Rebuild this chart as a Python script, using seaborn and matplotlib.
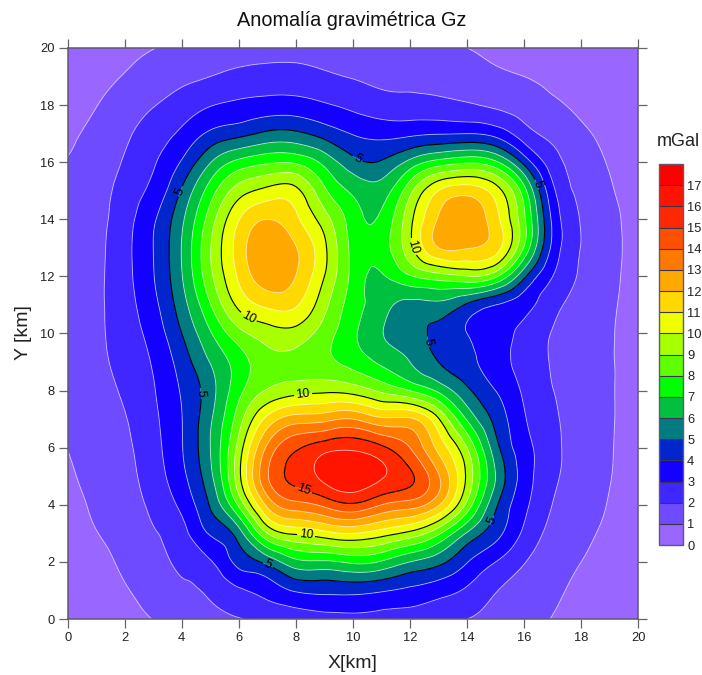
import numpy as np
import matplotlib
matplotlib.use("Agg")
import matplotlib.pyplot as plt
import matplotlib.tri as mtri
from matplotlib.colors import ListedColormap, BoundaryNorm
import seaborn as sns

x_km = np.arange(0, 21)
y_km = np.arange(0, 21)

# Values at every 1 km node; each list is one column (x fixed, y = 0..20).
gz_x00 = [.02,.15,.35,.52,.68,.85,1.02,1.2,1.32,1.38,1.4,1.38,1.34,1.28,1.2,1.12,1.03,.9,.75,.57,.38]
gz_x01 = [.28,.45,.68,.97,1.15,1.3,1.45,1.6,1.7,1.78,1.8,1.8,1.78,1.73,1.65,1.52,1.38,1.2,.98,.75,.52]
gz_x02 = [.68,.92,1.18,1.4,1.6,1.72,1.82,1.95,2.12,2.3,2.48,2.6,2.68,2.7,2.6,2.4,2.1,1.8,1.45,1.05,.76]
gz_x03 = [1.02,1.35,1.65,1.92,2.2,2.48,2.65,2.78,2.92,3.1,3.4,3.72,3.95,4.0,3.85,3.3,2.9,2.5,1.95,1.42,.98]
gz_x04 = [1.4,1.8,2.2,2.65,3.25,3.75,3.95,3.98,4.1,4.45,5.0,5.55,5.95,6.05,5.8,5.1,4.1,3.2,2.45,1.75,1.22]
gz_x05 = [1.7,2.15,2.9,4.1,5.1,5.75,6.0,5.85,5.6,6.05,6.9,7.95,8.75,8.95,8.5,7.5,5.95,4.2,2.95,2.0,1.4]
gz_x06 = [1.97,2.85,4.3,5.55,8.2,9.7,9.4,8.55,7.7,7.5,8.65,10.25,11.15,11.45,10.95,9.5,7.3,4.7,3.2,2.25,1.55]
gz_x07 = [2.2,3.4,5.3,9.0,12.25,13.9,13.2,11.3,9.1,8.65,9.5,11.2,12.6,12.9,12.0,10.3,7.85,5.2,3.4,2.35,1.65]
gz_x08 = [2.45,4.1,6.7,10.15,13.65,15.3,14.85,12.5,9.6,8.7,9.6,11.1,11.98,12.05,11.2,10.25,7.85,5.2,3.4,2.35,1.65]
gz_x09 = [2.65,4.25,6.85,10.65,14.25,16.3,15.6,12.7,9.8,8.25,8.5,9.3,10.0,10.2,9.45,8.2,6.7,4.6,3.1,2.15,1.55]
gz_x10 = [2.75,4.3,7.2,11.0,14.85,16.7,15.8,13.0,9.6,7.65,7.2,7.5,7.7,7.7,7.5,6.8,5.35,3.95,2.75,1.95,1.45]
gz_x11 = [2.65,4.1,6.9,10.45,14.0,16.1,15.2,12.2,8.8,6.8,6.05,6.4,6.9,7.5,7.2,6.5,5.1,3.7,2.4,1.8,1.35]
gz_x12 = [2.5,3.8,6.0,9.7,13.5,15.2,14.0,12.15,8.0,6.0,5.45,5.7,7.9,9.7,9.7,8.7,6.3,3.8,2.35,1.7,1.25]
gz_x13 = [2.25,3.4,5.3,8.2,12.1,13.1,11.7,10.1,6.8,5.0,4.7,5.75,8.55,12.0,12.1,11.0,7.4,3.95,2.3,1.5,1.1]
gz_x14 = [2.0,2.85,4.05,5.9,8.7,9.8,9.0,6.9,5.2,4.3,4.0,4.85,8.95,12.05,12.7,11.6,7.85,4.0,2.1,1.35,1.0]
gz_x15 = [1.7,2.05,3.0,4.35,5.2,6.0,5.4,4.7,4.0,3.45,3.4,4.0,8.2,11.4,11.35,10.5,7.2,3.65,1.85,1.15,.85]
gz_x16 = [1.3,1.6,2.05,2.8,3.25,3.55,3.4,3.1,2.85,2.65,2.75,3.35,5.2,7.9,8.2,7.4,4.7,2.45,1.55,1.0,.7]
gz_x17 = [.97,1.18,1.42,1.7,1.98,2.2,2.25,2.15,2.02,1.92,1.95,2.3,3.0,3.75,3.8,3.25,2.45,1.7,1.15,.78,.55]
gz_x18 = [.62,.8,1.0,1.2,1.4,1.55,1.6,1.57,1.52,1.5,1.55,1.65,1.85,1.97,1.95,1.78,1.5,1.15,.85,.62,.45]
gz_x19 = [.33,.5,.67,.82,.95,1.03,1.06,1.07,1.07,1.07,1.08,1.12,1.18,1.23,1.22,1.1,.93,.8,.65,.47,.35]
gz_x20 = [.1,.25,.4,.53,.65,.74,.78,.78,.76,.75,.76,.77,.78,.78,.74,.68,.62,.55,.48,.39,.3]

gz_columns = [gz_x00, gz_x01, gz_x02, gz_x03, gz_x04, gz_x05, gz_x06, gz_x07, gz_x08, gz_x09, gz_x10,
              gz_x11, gz_x12, gz_x13, gz_x14, gz_x15, gz_x16, gz_x17, gz_x18, gz_x19, gz_x20]

levels = list(range(0, 19))
band_colors = ["#9966FF", "#6E4BFF", "#4026FF", "#1400FF", "#0026CC", "#007B80",
               "#00C040", "#00FF00", "#5FFF00", "#A8FF00", "#EEFF00", "#FFD800",
               "#FFA800", "#FF7800", "#FF5000", "#FF2800", "#FF1400", "#FF0000"]
black_levels = [5, 10, 15]
light_levels = [l for l in levels[1:-1] if l not in black_levels]
label_spots = [(10.2, 16.2), (16.4, 15.2), (3.9, 15.0), (12.6, 9.7), (4.7, 7.9), (15.0, 3.4), (7.0, 1.85),
               (6.3, 10.5), (12.15, 13.05), (8.25, 7.9), (8.35, 2.88), (8.25, 4.5)]
x_ticks = list(range(0, 21, 2))
y_ticks = list(range(0, 21, 2))
title = "Anomalía gravimétrica Gz"
x_label = "X[km]"
y_label = "Y [km]"
unit_label = "mGal"

sns.set_theme(style="ticks")
plt.rcParams["font.family"] = ["Liberation Sans", "DejaVu Sans"]

W, H = 702, 675
fig = plt.figure(figsize=(W / 100, H / 100), dpi=100, facecolor="white")
ax = fig.add_axes([67.7 / W, 1 - 619 / H, 570.5 / W, 571 / H])

palette = sns.color_palette(band_colors)
cmap = ListedColormap(palette)
norm = BoundaryNorm(levels, cmap.N)
grid = np.column_stack(gz_columns)

# matplotlib's own contour smoothing: the read node values stay as they are;
# the library's triangulation refiner only rounds the contour lines between them.
xx, yy = np.meshgrid(x_km, y_km)
tri = mtri.Triangulation(xx.ravel(), yy.ravel())
refiner = mtri.UniformTriRefiner(tri)
tri_fine, z_fine = refiner.refine_field(grid.ravel(), subdiv=3)
z_fine = np.clip(z_fine, 0.001, 17.9)

cf = ax.tricontourf(tri_fine, z_fine, levels=levels, cmap=cmap, norm=norm, antialiased=True)
ax.tricontour(tri_fine, z_fine, levels=light_levels, colors="white", linewidths=0.7, alpha=0.5)
cs = ax.tricontour(tri_fine, z_fine, levels=black_levels, colors="black", linewidths=0.8)
ax.clabel(cs, fmt="%d", fontsize=9, manual=label_spots, inline=True, inline_spacing=2)

edge = "#5f5878"
ax.set_xlim(0, 20)
ax.set_ylim(0, 20)
ax.set_xticks(x_ticks)
ax.set_yticks(y_ticks)
ax.tick_params(axis="both", which="both", direction="out", length=6.5, width=0.9, color="#666666",
               top=True, right=True, labelsize=9.3, labelcolor="#222222", pad=3)
for s in ax.spines.values():
    s.set_color(edge)
    s.set_linewidth(1.1)
    s.set_visible(True)

fig.text(352 / W, 1 - 21 / H, title, ha="center", va="center", fontsize=14.3, color="#111111")
fig.text(352 / W, 1 - 664 / H, x_label, ha="center", va="center", fontsize=14, color="#222222")
fig.text(24 / W, 1 - 333 / H, y_label, ha="center", va="center", rotation=90, fontsize=14, color="#222222")
fig.text(678 / W, 1 - 142 / H, unit_label, ha="center", va="center", fontsize=13, color="#222222")

cax = fig.add_axes([659 / W, 1 - 545 / H, 24 / W, 381 / H])
cb = fig.colorbar(cf, cax=cax, drawedges=True, spacing="proportional")
cb.set_ticks(levels[:-1], labels=[str(l) for l in levels[:-1]])
cb.ax.minorticks_off()
cb.ax.tick_params(length=0, labelsize=9.3, labelcolor="#222222", pad=3)
cb.dividers.set_color("#3c3450")
cb.dividers.set_linewidth(0.8)
cb.dividers.set_clip_on(True)
cb.outline.set_edgecolor(edge)
cb.outline.set_linewidth(1.0)

fig.savefig("out.png", dpi=100)
